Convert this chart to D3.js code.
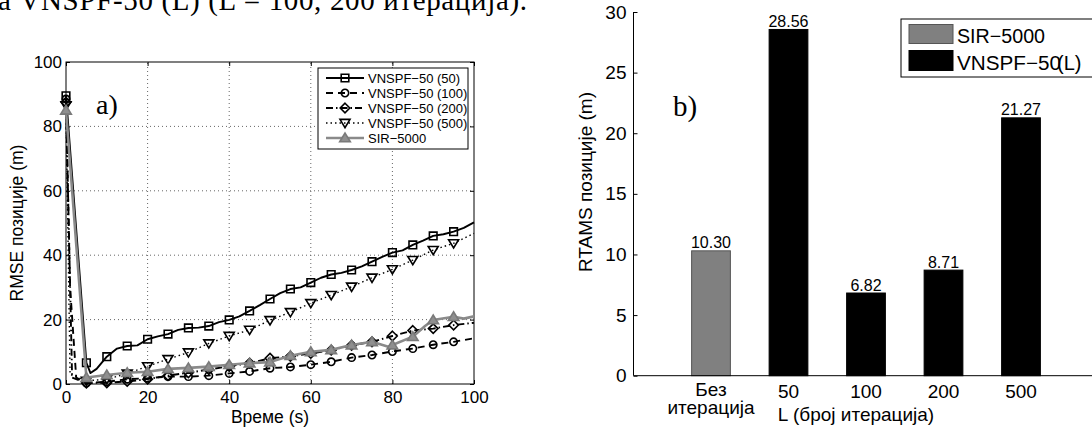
<!DOCTYPE html>
<html>
<head>
<meta charset="utf-8">
<script src="https://cdn.jsdelivr.net/npm/d3@7"></script>
<style>
  body { margin: 0; background: #fff; }
  svg { display: block; }
  text { font-family: "Liberation Sans", Arial, sans-serif; fill: #000; }
  .serif { font-family: "Liberation Serif", "Times New Roman", serif; }
</style>
</head>
<body>
<svg id="fig" width="1092" height="428"></svg>
<script>
// ---- Panel a): position RMSE over time ----
const timeL50 = [0, 5, 6, 7.5, 10, 12.5, 15, 17.5, 20, 22.5, 25, 27.5, 30, 32.5, 35, 37.5, 40, 42.5, 45, 47.5, 50,
  52.5, 55, 57.5, 60, 62.5, 65, 67.5, 70, 72.5, 75, 77.5, 80, 82.5, 85, 87.5, 90, 92.5, 95, 97.5, 100];
const rmseL50 = [89.5, 6.6, 3.4, 4.7, 8.5, 11, 11.8, 12, 13.9, 14.8, 15.5, 16.8, 17.4, 17.5, 18, 19.2, 19.9, 21, 22.7, 24.5, 26.4,
  28.2, 29.5, 30, 31.5, 33, 34, 34.5, 35.4, 36.5, 38, 39.5, 40.8, 41.5, 43.2, 44.5, 46, 46.5, 47.3, 48.5, 50.2];

const timeL100 = [0, 1, 2.5, 5, 10, 15, 20, 25, 30, 35, 40, 45, 50, 55, 60, 65, 70, 75, 80, 85, 90, 95, 100];
const rmseL100 = [88.5, 30, 2, 0.3, 0.7, 1.5, 1.8, 2.3, 2.3, 2.6, 3.3, 3.9, 4.9, 5.3, 6.0, 6.9, 8.2, 9.0, 10.1, 11.0, 12.2, 13.1, 14.2];

const timeL200 = [0, 1.5, 5, 10, 15, 20, 25, 30, 35, 40, 45, 50, 55, 60, 65, 70, 75, 80, 85, 90, 95, 100];
const rmseL200 = [87.5, 2, 0.3, 0.4, 0.8, 1.5, 2.6, 3.5, 4.5, 5.5, 6.5, 8.0, 8.6, 9.5, 10.5, 12.0, 13.1, 14.9, 16.6, 17.2, 18.3, 19.0];

const timeL500 = [0, 1, 5, 10, 15, 20, 25, 30, 35, 40, 45, 50, 55, 60, 65, 70, 75, 80, 85, 90, 95, 100];
const rmseL500 = [86.5, 3, 1.0, 1.5, 3.2, 5.5, 7.7, 9.8, 12.6, 14.9, 16.8, 19.8, 22.3, 25.1, 27.6, 30.2, 33.0, 35.6, 38.5, 41.6, 43.7, 46.8];

const timeSir = [0, 5, 10, 15, 20, 25, 30, 35, 40, 45, 50, 55, 60, 65, 70, 75, 79, 80, 85, 88, 90, 95, 97.5, 100];
const rmseSir = [85, 2.0, 2.8, 3.5, 3.8, 4.7, 5.0, 5.4, 6.0, 6.5, 6.8, 8.8, 10.0, 10.6, 12.1, 13.1, 11.6, 12.1, 14.7, 18.0, 19.9, 20.9, 20.3, 21.0];

const seriesNames = ["VNSPF−50 (50)", "VNSPF−50 (100)", "VNSPF−50 (200)", "VNSPF−50 (500)", "SIR−5000"];
const timeTicks = [0, 20, 40, 60, 80, 100];
const rmseTicks = [0, 20, 40, 60, 80, 100];

// ---- Panel b): RTAMS per number of iterations ----
const barCategories = ["Без итерација", "50", "100", "200", "500"];
const barValues = [10.30, 28.56, 6.82, 8.71, 21.27];
const barGroup = ["SIR−5000", "VNSPF−50", "VNSPF−50", "VNSPF−50", "VNSPF−50"];
const rtamsTicks = [0, 5, 10, 15, 20, 25, 30];

const svg = d3.select("#fig");

// caption line running above the figure
svg.append("text").attr("class", "serif")
  .attr("x", -2).attr("y", 10)
  .attr("font-size", 29)
  .attr("textLength", 529).attr("lengthAdjust", "spacing")
  .text("а VNSPF-50 (L) (L = 100, 200 итерација).");

// ================= panel a =================
const x = d3.scaleLinear().domain([0, 100]).range([66, 474]);
const y = d3.scaleLinear().domain([0, 100]).range([384, 62]);
const pa = svg.append("g");

// grid
pa.append("g").selectAll("line").data(timeTicks.slice(1, -1)).join("line")
  .attr("x1", d => x(d)).attr("x2", d => x(d)).attr("y1", y(0)).attr("y2", y(100))
  .attr("stroke", "#666").attr("stroke-width", 1).attr("stroke-dasharray", "1,3");
pa.append("g").selectAll("line").data(rmseTicks.slice(1, -1)).join("line")
  .attr("y1", d => y(d)).attr("y2", d => y(d)).attr("x1", x(0)).attr("x2", x(100))
  .attr("stroke", "#666").attr("stroke-width", 1).attr("stroke-dasharray", "1,3");

// axes with inward ticks on all four sides
const axB = pa.append("g").attr("transform", `translate(0,${y(0)})`)
  .call(d3.axisBottom(x).tickValues(timeTicks).tickSize(-4).tickPadding(7).tickFormat(d3.format("d")));
const axL = pa.append("g").attr("transform", `translate(${x(0)},0)`)
  .call(d3.axisLeft(y).tickValues(rmseTicks).tickSize(-4).tickPadding(4).tickFormat(d3.format("d")));
const axT = pa.append("g").attr("transform", `translate(0,${y(100)})`)
  .call(d3.axisTop(x).tickValues(timeTicks).tickSize(-4).tickFormat(""));
const axR = pa.append("g").attr("transform", `translate(${x(100)},0)`)
  .call(d3.axisRight(y).tickValues(rmseTicks).tickSize(-4).tickFormat(""));
[axB, axL, axT, axR].forEach(g => {
  g.select(".domain").remove();
  g.selectAll("line").attr("stroke", "#000");
  g.selectAll("text").attr("font-size", 17).attr("font-family", "Liberation Sans, Arial, sans-serif");
});
pa.append("rect").attr("x", x(0)).attr("y", y(100))
  .attr("width", x(100) - x(0)).attr("height", y(0) - y(100))
  .attr("fill", "none").attr("stroke", "#000").attr("stroke-width", 1);

// marker shapes
function markerPath(kind) {
  switch (kind) {
    case "square": return "M-3.8,-3.8H3.8V3.8H-3.8Z";
    case "circle": return "M3.7,0A3.7,3.7 0 1,1 -3.7,0A3.7,3.7 0 1,1 3.7,0Z";
    case "diamond": return "M0,-4.8L4.8,0L0,4.8L-4.8,0Z";
    case "down": return "M-5,-3.6L5,-3.6L0,4.6Z";
    case "up": return "M-5.3,3.8L5.3,3.8L0,-4.9Z";
  }
}

const series = [
  { name: seriesNames[0], t: timeL50, v: rmseL50, color: "#000", width: 1.9, dash: null, marker: "square", fill: "none" },
  { name: seriesNames[1], t: timeL100, v: rmseL100, color: "#000", width: 1.9, dash: "7,5", marker: "circle", fill: "none" },
  { name: seriesNames[2], t: timeL200, v: rmseL200, color: "#000", width: 1.9, dash: "7,3,1.5,3", marker: "diamond", fill: "none" },
  { name: seriesNames[3], t: timeL500, v: rmseL500, color: "#000", width: 1.4, dash: "1.5,3", marker: "down", fill: "none" },
  { name: seriesNames[4], t: timeSir, v: rmseSir, color: "#8a8a8a", width: 2.6, dash: null, marker: "up", fill: "#8f8f8f" }
];

const line = d3.line().x(d => x(d[0])).y(d => y(d[1]));
const plotG = pa.append("g");
series.forEach(s => {
  const pts = s.t.map((t, i) => [t, s.v[i]]);
  plotG.append("path").datum(pts)
    .attr("d", line).attr("fill", "none")
    .attr("stroke", s.color).attr("stroke-width", s.width)
    .attr("stroke-dasharray", s.dash).attr("stroke-linejoin", "round");
  plotG.append("g").selectAll("path")
    .data(pts.filter(p => p[0] % 5 === 0 && p[0] < 100)).join("path")
    .attr("transform", p => `translate(${x(p[0])},${y(p[1])})`)
    .attr("d", markerPath(s.marker))
    .attr("fill", s.fill)
    .attr("stroke", s.marker === "up" ? "#7a7a7a" : "#000")
    .attr("stroke-width", 1.6);
});

// legend a
const lg = pa.append("g");
lg.append("rect").attr("x", 318).attr("y", 68).attr("width", 150).attr("height", 81)
  .attr("fill", "#fff").attr("stroke", "#000").attr("stroke-width", 1);
series.forEach((s, i) => {
  const ly = 78 + i * 15;
  lg.append("line").attr("x1", 326).attr("x2", 364).attr("y1", ly).attr("y2", ly)
    .attr("stroke", s.color).attr("stroke-width", s.width).attr("stroke-dasharray", s.dash);
  lg.append("path").attr("transform", `translate(345,${ly})`).attr("d", markerPath(s.marker))
    .attr("fill", s.fill).attr("stroke", s.marker === "up" ? "#7a7a7a" : "#000").attr("stroke-width", 1.6);
  lg.append("text").attr("x", 368).attr("y", ly).attr("dy", "0.35em")
    .attr("font-size", 13).text(s.name);
});

// labels a
pa.append("text").attr("x", 270).attr("y", 423).attr("text-anchor", "middle")
  .attr("font-size", 17.5).text("Време (s)");
pa.append("text").attr("transform", "translate(23,223) rotate(-90)").attr("text-anchor", "middle")
  .attr("font-size", 17.5).text("RMSE позиције (m)");
pa.append("text").attr("class", "serif").attr("x", 96).attr("y", 114)
  .attr("font-size", 28).text("a)");

// ================= panel b =================
const xb = d3.scaleLinear().domain([0, 6]).range([633.5, 1098.5]);
const yb = d3.scaleLinear().domain([0, 30]).range([375.7, 12]);
const pb = svg.append("g");
const barW = xb(0.5) - xb(0);

pb.append("g").selectAll("rect").data(barValues).join("rect")
  .attr("x", (d, i) => xb(i + 1) - barW / 2)
  .attr("y", d => yb(d))
  .attr("width", barW)
  .attr("height", d => yb(0) - yb(d))
  .attr("fill", (d, i) => barGroup[i] === "SIR−5000" ? "#808080" : "#000")
  .attr("stroke", (d, i) => barGroup[i] === "SIR−5000" ? "#555" : "#000")
  .attr("stroke-width", 1);

pb.append("g").selectAll("text").data(barValues).join("text")
  .attr("x", (d, i) => xb(i + 1)).attr("y", d => yb(d) - 2.5)
  .attr("text-anchor", "middle").attr("font-size", 16)
  .text(d => d.toFixed(2));

const ayb = pb.append("g").attr("transform", `translate(${xb(0)},0)`)
  .call(d3.axisLeft(yb).tickValues(rtamsTicks).tickSize(-4).tickPadding(7).tickFormat(d3.format("d")));
ayb.select(".domain").attr("d", `M0,${yb(30)}V${yb(0)}`).attr("stroke", "#000");
ayb.selectAll("line").attr("stroke", "#000");
ayb.selectAll("text").attr("font-size", 19).attr("font-family", "Liberation Sans, Arial, sans-serif");

pb.append("line").attr("x1", xb(0)).attr("x2", 1092).attr("y1", yb(0)).attr("y2", yb(0))
  .attr("stroke", "#000").attr("stroke-width", 1);

// category labels (multi-word labels wrap onto separate lines)
barCategories.forEach((c, i) => {
  const words = c.split(" ");
  words.forEach((w, k) => {
    pb.append("text").attr("x", xb(i + 1))
      .attr("y", words.length > 1 ? 396 + k * 17.5 : 398)
      .attr("text-anchor", "middle").attr("font-size", 19).text(w);
  });
});
pb.append("text").attr("x", 856).attr("y", 421).attr("text-anchor", "middle")
  .attr("font-size", 19).text("L (број итерација)");
pb.append("text").attr("transform", "translate(592,182) rotate(-90)").attr("text-anchor", "middle")
  .attr("font-size", 19).text("RTAMS позиције (m)");
pb.append("text").attr("class", "serif").attr("x", 673).attr("y", 116)
  .attr("font-size", 29).text("b)");

// legend b
const lb = pb.append("g");
lb.append("rect").attr("x", 901).attr("y", 19).attr("width", 210).attr("height", 58)
  .attr("fill", "#fff").attr("stroke", "#000").attr("stroke-width", 1);
lb.append("rect").attr("x", 909).attr("y", 24.5).attr("width", 44).attr("height", 19)
  .attr("fill", "#808080").attr("stroke", "#555");
lb.append("rect").attr("x", 909).attr("y", 50.5).attr("width", 44).attr("height", 20)
  .attr("fill", "#000").attr("stroke", "#000");
lb.append("text").attr("x", 957).attr("y", 43).attr("font-size", 20)
  .attr("textLength", 88).attr("lengthAdjust", "spacingAndGlyphs").text("SIR−5000");
lb.append("text").attr("x", 957).attr("y", 70).attr("font-size", 20)
  .attr("textLength", 104).attr("lengthAdjust", "spacingAndGlyphs").text("VNSPF−50");
lb.append("text").attr("x", 1057).attr("y", 70).attr("font-size", 20).text("(L)");
</script>
</body>
</html>
